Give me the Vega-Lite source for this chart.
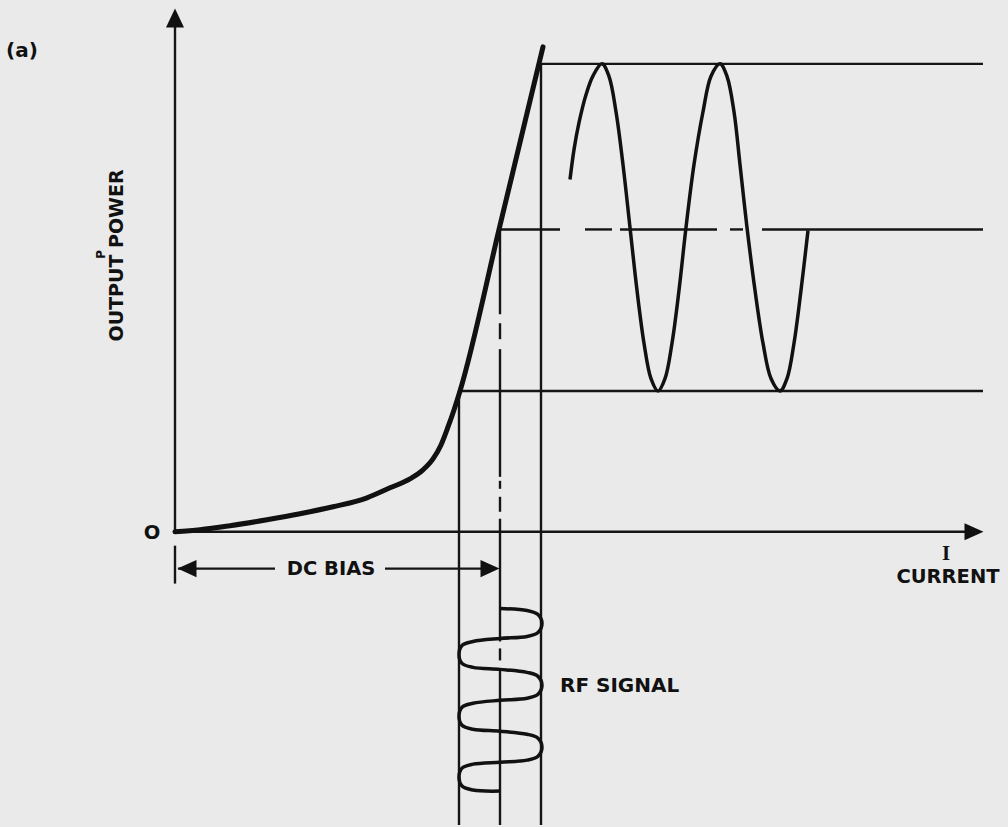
{
  "$schema": "https://vega.github.io/schema/vega-lite/v6.json",
  "width": 1008,
  "height": 827,
  "autosize": {"type": "fit", "contains": "padding"},
  "padding": 0,
  "background": "#eaeaea",
  "config": {"view": {"stroke": null}},
  "datasets": {
    "curve": [
      {"I": 0, "P": 0}, {"I": 25, "P": 2}, {"I": 55, "P": 6}, {"I": 92, "P": 12},
      {"I": 125, "P": 18}, {"I": 158, "P": 25}, {"I": 192, "P": 34}, {"I": 215, "P": 44},
      {"I": 235, "P": 53}, {"I": 248, "P": 62}, {"I": 258, "P": 73}, {"I": 266, "P": 87},
      {"I": 273, "P": 105}, {"I": 279, "P": 122}, {"I": 285, "P": 141}, {"I": 325, "P": 307},
      {"I": 368, "P": 486}
    ],
    "hlines": [
      {"I": 0, "I2": 792, "P": 0},
      {"I": 366, "I2": 808, "P": 469},
      {"I": 284, "I2": 808, "P": 141},
      {"I": 325, "I2": 385, "P": 303},
      {"I": 410, "I2": 437, "P": 303},
      {"I": 445, "I2": 542, "P": 303},
      {"I": 555, "I2": 568, "P": 303},
      {"I": 587, "I2": 808, "P": 303},
      {"I": 3, "I2": 100, "P": -37},
      {"I": 210, "I2": 318, "P": -37}
    ],
    "vlines": [
      {"I": 0, "P": 0, "P2": 508},
      {"I": 0, "P": -14, "P2": -52},
      {"I": 284, "P": 141, "P2": -294},
      {"I": 366, "P": 469, "P2": -294},
      {"I": 325, "P": 303, "P2": 218},
      {"I": 325, "P": 209, "P2": 193},
      {"I": 325, "P": 183, "P2": 55},
      {"I": 325, "P": 51, "P2": 43},
      {"I": 325, "P": 35, "P2": 20},
      {"I": 325, "P": 13, "P2": -110},
      {"I": 325, "P": -117, "P2": -129},
      {"I": 325, "P": -137, "P2": -294}
    ],
    "sine": [
      {"k": 1, "I": 395, "P": 353}, {"k": 2, "I": 399, "P": 383}, {"k": 3, "I": 404, "P": 410},
      {"k": 4, "I": 411, "P": 438}, {"k": 5, "I": 418, "P": 457}, {"k": 6, "I": 427, "P": 469},
      {"k": 7, "I": 434, "P": 456.5}, {"k": 8, "I": 441, "P": 421}, {"k": 9, "I": 448, "P": 368},
      {"k": 10, "I": 455, "P": 305}, {"k": 11, "I": 462, "P": 242}, {"k": 12, "I": 469, "P": 189},
      {"k": 13, "I": 476, "P": 153.5}, {"k": 14, "I": 483, "P": 141}, {"k": 15, "I": 490, "P": 153.5},
      {"k": 16, "I": 497, "P": 189}, {"k": 17, "I": 504, "P": 242}, {"k": 18, "I": 511, "P": 305},
      {"k": 19, "I": 519, "P": 368}, {"k": 20, "I": 528, "P": 421}, {"k": 21, "I": 536, "P": 456.5},
      {"k": 22, "I": 545, "P": 469}, {"k": 23, "I": 552, "P": 456.5}, {"k": 24, "I": 559, "P": 421},
      {"k": 25, "I": 565, "P": 368}, {"k": 26, "I": 572, "P": 305}, {"k": 27, "I": 580, "P": 242},
      {"k": 28, "I": 588, "P": 189}, {"k": 29, "I": 596, "P": 153.5}, {"k": 30, "I": 605, "P": 141},
      {"k": 31, "I": 612, "P": 153.5}, {"k": 32, "I": 619, "P": 189}, {"k": 33, "I": 626, "P": 242},
      {"k": 34, "I": 633, "P": 302}
    ],
    "rf": [
      {"k": 1, "I": 325, "P": -77}, {"k": 2, "I": 352, "P": -79}, {"k": 3, "I": 363, "P": -83},
      {"k": 4, "I": 367, "P": -92}, {"k": 5, "I": 363, "P": -101}, {"k": 6, "I": 352, "P": -105},
      {"k": 7, "I": 325, "P": -107}, {"k": 8, "I": 298, "P": -110}, {"k": 9, "I": 287, "P": -114},
      {"k": 10, "I": 284, "P": -123}, {"k": 11, "I": 287, "P": -132}, {"k": 12, "I": 298, "P": -136},
      {"k": 13, "I": 325, "P": -138}, {"k": 14, "I": 352, "P": -141}, {"k": 15, "I": 363, "P": -145},
      {"k": 16, "I": 367, "P": -154}, {"k": 17, "I": 363, "P": -163}, {"k": 18, "I": 352, "P": -167},
      {"k": 19, "I": 325, "P": -169}, {"k": 20, "I": 298, "P": -172}, {"k": 21, "I": 287, "P": -176},
      {"k": 22, "I": 284, "P": -185}, {"k": 23, "I": 287, "P": -194}, {"k": 24, "I": 298, "P": -198},
      {"k": 25, "I": 325, "P": -200}, {"k": 26, "I": 352, "P": -203}, {"k": 27, "I": 363, "P": -207},
      {"k": 28, "I": 367, "P": -216}, {"k": 29, "I": 363, "P": -225}, {"k": 30, "I": 352, "P": -229},
      {"k": 31, "I": 325, "P": -231}, {"k": 32, "I": 298, "P": -233}, {"k": 33, "I": 287, "P": -237},
      {"k": 34, "I": 284, "P": -246}, {"k": 35, "I": 287, "P": -255}, {"k": 36, "I": 298, "P": -259},
      {"k": 37, "I": 325, "P": -260}
    ],
    "arrows": [
      {"I": 0, "P": 515, "dir": "up"},
      {"I": 799, "P": 0, "dir": "right"},
      {"I": 315, "P": -37, "dir": "right"},
      {"I": 12, "P": -37, "dir": "left"}
    ],
    "labels": [
      {"I": -23, "P": -1, "label": "O"},
      {"I": 156, "P": -37, "label": "DC BIAS"},
      {"I": 773, "P": -45, "label": "CURRENT"}
    ]
  },
  "encoding": {
    "x": {"field": "I", "type": "quantitative", "scale": {"domain": [-175, 833], "nice": false, "zero": false}, "axis": null},
    "y": {"field": "P", "type": "quantitative", "scale": {"domain": [-294, 533], "nice": false, "zero": false}, "axis": null}
  },
  "layer": [
    {
      "data": {"name": "hlines"},
      "mark": {"type": "rule", "color": "#151515", "strokeWidth": 2.4},
      "encoding": {"x2": {"field": "I2"}}
    },
    {
      "data": {"name": "vlines"},
      "mark": {"type": "rule", "color": "#151515", "strokeWidth": 2.4},
      "encoding": {"y2": {"field": "P2"}}
    },
    {
      "data": {"name": "curve"},
      "mark": {"type": "line", "color": "#111111", "strokeWidth": 5, "interpolate": "monotone", "strokeCap": "round"},
      "encoding": {}
    },
    {
      "data": {"name": "sine"},
      "mark": {"type": "line", "color": "#111111", "strokeWidth": 3.5, "interpolate": "catmull-rom", "strokeCap": "butt"},
      "encoding": {"order": {"field": "k", "type": "quantitative"}}
    },
    {
      "data": {"name": "rf"},
      "mark": {"type": "line", "color": "#111111", "strokeWidth": 3.5, "interpolate": "catmull-rom"},
      "encoding": {"order": {"field": "k", "type": "quantitative"}}
    },
    {
      "data": {"name": "arrows"},
      "mark": {"type": "point", "filled": true, "color": "#111111", "opacity": 1, "size": 361, "strokeWidth": 0},
      "encoding": {
        "shape": {
          "field": "dir", "type": "nominal", "legend": null,
          "scale": {"domain": ["up", "right", "left"], "range": ["M0,-1L-0.95,1L0.95,1Z", "M1,0L-1,-0.9L-1,0.9Z", "M-1,0L1,-0.9L1,0.9Z"]}
        }
      }
    },
    {
      "data": {"name": "labels"},
      "mark": {"type": "text", "font": "DejaVu Sans", "fontWeight": "bold", "fontSize": 19.5, "color": "#111111", "align": "center", "baseline": "middle"},
      "encoding": {"text": {"field": "label"}}
    },
    {
      "data": {"values": [{"I": -153, "P": 482, "label": "(a)"}]},
      "mark": {"type": "text", "font": "DejaVu Sans", "fontWeight": "bold", "fontSize": 20, "color": "#111111", "align": "center", "baseline": "middle"},
      "encoding": {"text": {"field": "label"}}
    },
    {
      "data": {"values": [{"I": 385, "P": -155, "label": "RF SIGNAL"}]},
      "mark": {"type": "text", "font": "DejaVu Sans", "fontWeight": "bold", "fontSize": 20, "color": "#111111", "align": "left", "baseline": "middle"},
      "encoding": {"text": {"field": "label"}}
    },
    {
      "data": {"values": [{"I": 771, "P": -22, "label": "I"}]},
      "mark": {"type": "text", "font": "Liberation Serif", "fontWeight": "bold", "fontSize": 21, "color": "#111111", "align": "center", "baseline": "middle"},
      "encoding": {"text": {"field": "label"}}
    },
    {
      "data": {"values": [{"I": -58, "P": 277, "label": "OUTPUT POWER"}]},
      "mark": {"type": "text", "font": "DejaVu Sans", "fontWeight": "bold", "fontSize": 19, "angle": 270, "color": "#111111", "align": "center", "baseline": "middle"},
      "encoding": {"text": {"field": "label"}}
    },
    {
      "data": {"values": [{"I": -74, "P": 278, "label": "P"}]},
      "mark": {"type": "text", "font": "DejaVu Sans", "fontWeight": "bold", "fontSize": 12, "angle": 270, "color": "#111111", "align": "center", "baseline": "middle"},
      "encoding": {"text": {"field": "label"}}
    }
  ]
}
